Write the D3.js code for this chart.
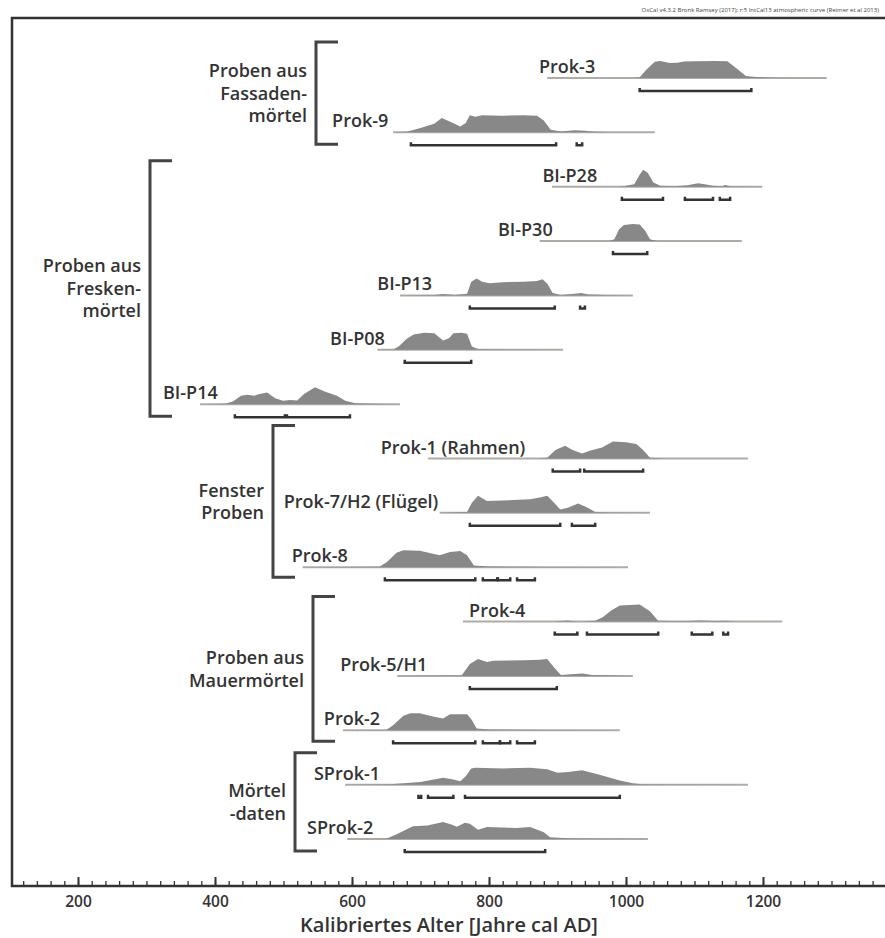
<!DOCTYPE html>
<html lang="de">
<head>
  <meta charset="UTF-8">
  <title>OxCal Kalibrierung</title>
  <script src="https://d3js.org/d3.v7.min.js"></script>
  <style>
    body {
      margin: 0;
      background: #fff;
      font-family: "Open Sans", sans-serif;
    }
    .frame { stroke: #333; stroke-width: 2.5px; fill: none; }
    .baseline { stroke: #b0aba5; stroke-width: 2px; }
    .dist { fill: #888; }
    .range { stroke: #333; stroke-width: 2.5px; fill: none; }
    .bracket { stroke: #444; stroke-width: 3px; fill: none; }
    .label { font-size: 18px; font-weight: 600; fill: #333; }
    .group-label { font-size: 18px; font-weight: 600; fill: #333; }
    .axis text { font-size: 15.5px; font-weight: 600; fill: #333; font-family: "Open Sans", sans-serif; }
    .axis line, .axis path { stroke: #333; }
  </style>
</head>
<body>
  <svg id="chart" width="885" height="938"></svg>

  <script>
    // Proben (von oben nach unten)
    const samples = ["Prok-3", "Prok-9", "BI-P28", "BI-P30", "BI-P13", "BI-P08", "BI-P14",
      "Prok-1 (Rahmen)", "Prok-7/H2 (Flügel)", "Prok-8", "Prok-4", "Prok-5/H1", "Prok-2",
      "SProk-1", "SProk-2"];

    // Wahrscheinlichkeitsverteilungen [Jahr AD, relative Wahrscheinlichkeit]
    const prok3 = [[885,0],[1010,0],[1020,0.05],[1030,0.5],[1042,0.95],[1050,1],[1064,0.88],[1075,0.9],[1085,0.97],[1100,0.98],[1130,1],[1148,0.98],[1162,0.55],[1175,0.12],[1190,0.06],[1215,0.02],[1240,0],[1293,0]];
    const prok9 = [[660,0],[680,0.03],[700,0.25],[720,0.5],[731,0.85],[745,0.6],[758,0.35],[766,0.55],[772,1],[780,0.92],[790,1],[820,0.98],[850,1],[870,0.98],[880,0.7],[890,0.15],[905,0.05],[925,0.12],[940,0.1],[955,0.03],[981,0.01],[1042,0]];
    const biP28 = [[892,0],[990,0],[1000,0.05],[1012,0.15],[1020,0.7],[1025,1],[1032,0.8],[1040,0.25],[1050,0.05],[1070,0.02],[1090,0.08],[1105,0.2],[1115,0.15],[1127,0.05],[1140,0.03],[1145,0.1],[1152,0.02],[1199,0]];
    const biP30 = [[874,0],[975,0],[983,0.1],[990,0.7],[997,0.95],[1010,1],[1020,0.97],[1028,0.6],[1035,0.1],[1045,0],[1169,0]];
    const biP13 = [[670,0],[720,0.02],[733,0.08],[750,0.02],[768,0.1],[774,0.8],[782,1],[790,0.8],[801,0.72],[820,0.78],[850,0.8],[870,0.85],[878,0.95],[885,0.7],[893,0.15],[905,0.03],[925,0.1],[935,0.15],[945,0.05],[970,0.02],[1010,0]];
    const biP08 = [[637,0],[660,0.02],[668,0.2],[680,0.65],[690,0.9],[705,1],[720,0.97],[733,0.55],[742,0.7],[748,0.98],[760,1],[768,0.95],[775,0.2],[785,0.03],[840,0.02],[908,0]];
    const biP14 = [[378,0],[415,0.02],[426,0.15],[438,0.5],[447,0.55],[457,0.5],[465,0.6],[476,0.68],[488,0.35],[499,0.2],[510,0.25],[520,0.22],[530,0.6],[546,1],[560,0.75],[578,0.5],[590,0.2],[605,0.05],[630,0.02],[670,0]];
    const prok1 = [[711,0],[870,0],[885,0.05],[897,0.5],[911,0.75],[922,0.5],[936,0.3],[947,0.45],[965,0.65],[981,1],[1000,0.95],[1015,0.85],[1025,0.5],[1035,0.05],[1060,0],[1178,0]];
    const prok7 = [[728,0],[768,0.05],[775,0.6],[784,1],[797,0.7],[835,0.75],[860,0.8],[874,0.9],[885,1],[895,0.6],[904,0.2],[915,0.3],[930,0.55],[942,0.35],[955,0.05],[981,0.02],[1035,0]];
    const prok8 = [[528,0],[640,0.02],[651,0.3],[665,0.85],[675,1],[699,0.97],[728,0.7],[743,0.9],[758,0.95],[768,0.7],[778,0.1],[800,0.04],[840,0.03],[885,0.01],[1003,0]];
    const prok4 = [[762,0],[895,0],[914,0.06],[930,0.01],[955,0.05],[966,0.25],[980,0.7],[991,0.95],[1020,1],[1035,0.6],[1047,0.05],[1080,0.02],[1108,0.06],[1130,0.03],[1147,0.05],[1160,0],[1228,0]];
    const prok5 = [[666,0],[760,0.02],[772,0.7],[784,1],[797,0.82],[806,0.9],[850,0.92],[874,0.95],[885,1],[895,0.5],[905,0.05],[925,0.12],[937,0.15],[950,0.05],[1010,0]];
    const prok2 = [[587,0],[650,0.02],[660,0.3],[675,0.85],[685,1],[699,1],[720,0.8],[733,0.7],[743,0.95],[768,0.95],[775,0.6],[782,0.1],[800,0.05],[840,0.03],[885,0.01],[991,0]];
    const sprok1 = [[590,0],[656,0.02],[700,0.15],[733,0.4],[748,0.3],[758,0.2],[766,0.5],[774,0.95],[780,1],[820,0.95],[860,1],[885,0.9],[900,0.7],[915,0.75],[936,0.85],[960,0.6],[991,0.25],[1010,0.08],[1023,0.03],[1060,0.01],[1178,0]];
    const sprok2 = [[593,0],[650,0.02],[666,0.3],[689,0.75],[710,0.8],[733,1],[745,0.85],[753,0.72],[765,0.95],[772,0.9],[784,0.55],[797,0.7],[820,0.68],[840,0.65],[860,0.7],[880,0.4],[889,0.1],[920,0.03],[1032,0]];
    const distributions = [prok3, prok9, biP28, biP30, biP13, biP08, biP14, prok1, prok7, prok8, prok4, prok5, prok2, sprok1, sprok2];

    // 95.4% Bereiche [von, bis]
    const ranges = [
      [[1020, 1183]],
      [[686, 898], [928, 936]],
      [[994, 1054], [1086, 1127], [1137, 1152]],
      [[981, 1031]],
      [[772, 896], [933, 940]],
      [[677, 774]],
      [[429, 502], [505, 597]],
      [[893, 933], [939, 1025]],
      [[772, 904], [921, 955]],
      [[648, 780], [791, 812], [813, 831], [841, 867]],
      [[896, 929], [943, 1047], [1096, 1126], [1142, 1149]],
      [[772, 899]],
      [[660, 780], [791, 816], [816, 831], [841, 867]],
      [[697, 701], [711, 748], [765, 991]],
      [[677, 882]]
    ];

    // Gruppen: Beschriftung, erste und letzte Probe
    const groupNames = [["Proben aus", "Fassaden-", "mörtel"], ["Proben aus", "Fresken-", "mörtel"],
      ["Fenster", "Proben"], ["Proben aus", "Mauermörtel"], ["Mörtel", "-daten"]];
    const groupFirst = [0, 2, 7, 10, 13];
    const groupLast = [1, 6, 9, 12, 14];

    const xTicks = [200, 400, 600, 800, 1000, 1200];
    const xTitle = "Kalibriertes Alter [Jahre cal AD]";
    const header = "OxCal v4.3.2 Bronk Ramsey (2017); r:5 IntCal13 atmospheric curve (Reimer et al 2013)";

    // Layout
    const labelEnd = [955, 653, 958, 893, 717, 648, 404, 853, 726, 594, 853, 710, 641, 641, 631];
    const bracketX = [316, 150, 273, 313, 295];
    const bracketTop = [36, 26, 33, 25, 32];
    const bracketBottom = [12, 12, 10, 11, 12];
    const distHeight = 17;

    const svg = d3.select("#chart");
    const x = d3.scaleLinear().domain([100, 1380]).range([9.5, 886.3]);
    const y = d3.scalePoint().domain(d3.range(samples.length)).range([78, 839]);
    const axisY = 886;

    // Kopfzeile
    svg.append("text")
      .attr("x", 879).attr("y", 12)
      .attr("text-anchor", "end")
      .style("font-size", "6px")
      .style("fill", "#444")
      .text(header);

    // Rahmen
    svg.append("path")
      .attr("class", "frame")
      .attr("d", `M885,18 H12 V${axisY} H885`);

    // Achse
    const minor = svg.append("g")
      .attr("class", "axis")
      .attr("transform", `translate(0,${axisY})`)
      .call(d3.axisBottom(x).tickValues(d3.range(120, 1380, 20)).tickSize(-5).tickFormat(""));
    minor.select(".domain").remove();
    minor.selectAll("line").attr("stroke-width", 1.3);

    const major = svg.append("g")
      .attr("class", "axis")
      .attr("transform", `translate(0,${axisY})`)
      .call(d3.axisBottom(x).tickValues(xTicks).tickSize(-9).tickPadding(10).tickFormat(d3.format("d")));
    major.select(".domain").remove();
    major.selectAll("line").attr("stroke-width", 2);

    svg.append("text")
      .attr("x", 449).attr("y", 932)
      .attr("text-anchor", "middle")
      .style("font-size", "20px")
      .style("font-weight", 600)
      .style("fill", "#333")
      .text(xTitle);

    const area = d3.area()
      .x(d => x(d[0]))
      .y0(0)
      .y1(d => -d[1] * distHeight);

    const rows = svg.selectAll(".row")
      .data(samples)
      .enter().append("g")
      .attr("class", "row")
      .attr("transform", (d, i) => `translate(0,${y(i)})`);

    rows.append("line")
      .attr("class", "baseline")
      .attr("x1", (d, i) => x(distributions[i][0][0]))
      .attr("x2", (d, i) => x(distributions[i][distributions[i].length - 1][0]))
      .attr("y1", 0).attr("y2", 0);

    rows.append("path")
      .attr("class", "dist")
      .attr("d", (d, i) => area(distributions[i]));

    rows.append("text")
      .attr("class", "label")
      .attr("x", (d, i) => x(labelEnd[i]))
      .attr("y", -5)
      .attr("text-anchor", "end")
      .text(d => d);

    rows.each(function(d, i) {
      d3.select(this).selectAll(".range")
        .data(ranges[i])
        .enter().append("path")
        .attr("class", "range")
        .attr("d", r => `M${x(r[0])},10 V13 H${x(r[1])} V10`);
    });

    // Gruppenklammern
    groupNames.forEach((lines, g) => {
      const top = y(groupFirst[g]) - bracketTop[g];
      const bottom = y(groupLast[g]) + bracketBottom[g];
      const bx = bracketX[g];
      svg.append("path")
        .attr("class", "bracket")
        .attr("d", `M${bx + 22},${top} H${bx} V${bottom} H${bx + 22}`);
      const mid = (top + bottom) / 2;
      const lh = 22.5;
      const t = svg.append("text")
        .attr("class", "group-label")
        .attr("text-anchor", "end");
      lines.forEach((s, k) => {
        t.append("tspan")
          .attr("x", bx - 9)
          .attr("y", mid + (k - (lines.length - 1) / 2) * lh + 6.5)
          .text(s);
      });
    });
  </script>
</body>
</html>
